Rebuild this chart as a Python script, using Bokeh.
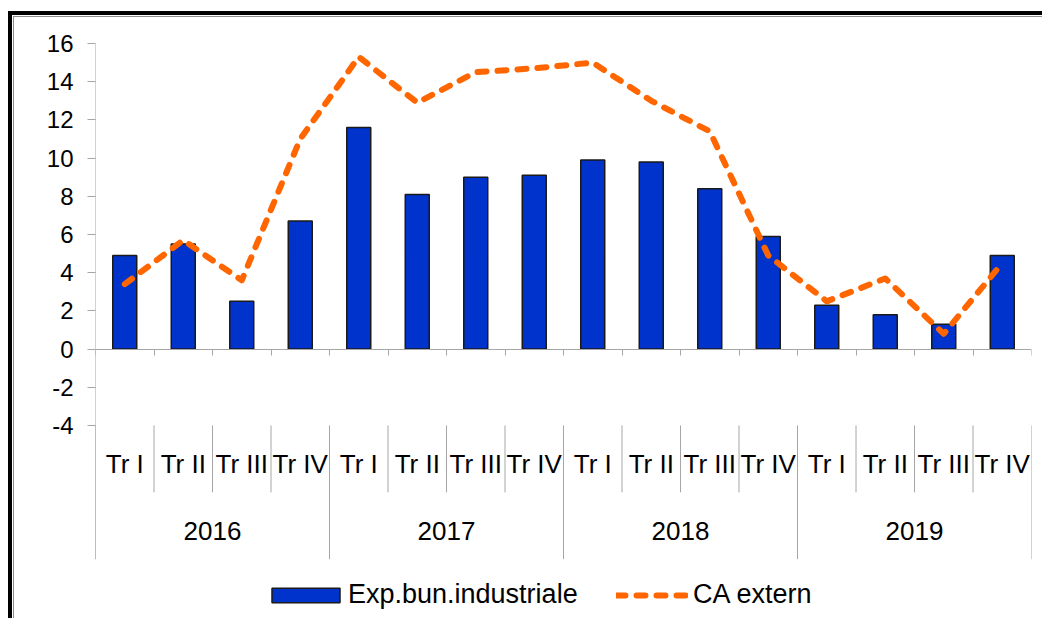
from bokeh.plotting import figure
from bokeh.models import (Range1d, LinearAxis, FixedTicker, Legend, LegendItem,
                          CustomJSTickFormatter)
from bokeh.core.properties import value
from bokeh.embed import file_html
from bokeh.resources import INLINE

# ---------------- data ----------------
years = ["2016", "2017", "2018", "2019"]
quarters = ["Tr I", "Tr II", "Tr III", "Tr IV"]
exp_bun = [4.9, 5.5, 2.5, 6.7, 11.6, 8.1, 9.0, 9.1, 9.9, 9.8, 8.4, 5.9, 2.3, 1.8, 1.3, 4.9]
ca_extern = [3.4, 5.7, 3.6, 11.0, 15.3, 12.9, 14.5, 14.7, 15.0, 13.0, 11.4, 4.9, 2.5, 3.7, 0.8, 4.5]
y_ticks = [-4, -2, 0, 2, 4, 6, 8, 10, 12, 14, 16]

# ---------------- layout constants ----------------
FONT = "Liberation Sans"
AXIS_GRAY = "#a6a6a6"
Y_BOTTOM = -14.42     # frame extends below -4 to hold category labels and legend
YEAR_SEP_END = -11.0
Q_SEP_END = -7.5
Q_LABEL_Y = -6.0
YEAR_LABEL_Y = -9.5

nq = len(quarters)
n = len(years) * nq
xs = [i + 0.5 for i in range(n)]
q_labels = [q for _y in years for q in quarters]
year_x = [nq * (k + 0.5) for k in range(len(years))]

p = figure(width=1034, height=607, x_range=Range1d(0, n),
           y_range=Range1d(Y_BOTTOM, max(y_ticks)),
           x_axis_type=None, output_backend="svg", toolbar_location=None,
           min_border_left=81, min_border_right=17, min_border_top=26,
           min_border_bottom=0)
p.outline_line_color = None
p.ygrid.grid_line_color = None
p.background_fill_color = "white"
p.border_fill_color = "white"
p.styles = {"border-left": "4px solid black", "border-top": "4px solid black",
            "margin-left": "8px", "margin-top": "11px",
            "padding-left": "2px", "padding-top": "2px",
            "background-color": "white",
            "box-shadow": "inset 1px 1px 0 0 white, inset 2px 2px 0 0 #8c8c8c"}

# y axis (its line is drawn separately so it can stop at the category block)
ya = p.yaxis[0]
ya.ticker = FixedTicker(ticks=y_ticks)
ya.formatter = CustomJSTickFormatter(code="return tick.toFixed(0)")
ya.axis_line_color = None
ya.major_tick_line_color = AXIS_GRAY
ya.major_tick_in = 0
ya.major_tick_out = 8
ya.minor_tick_line_color = None
ya.major_label_standoff = 14
ya.major_label_text_font = FONT
ya.major_label_text_font_size = "24px"
ya.major_label_text_color = "black"

# category axis line at zero (kept in the top panel so it takes no bottom space)
zero_axis = LinearAxis(fixed_location=0, ticker=FixedTicker(ticks=list(range(n + 1))),
                       formatter=CustomJSTickFormatter(code="return ''"),
                       major_tick_in=6, major_tick_out=0,
                       minor_tick_line_color=None,
                       axis_line_color=AXIS_GRAY, major_tick_line_color=AXIS_GRAY)
p.add_layout(zero_axis, "above")

# bars and line
bars = p.vbar(x=xs, top=exp_bun, bottom=0, width=0.41, fill_color="#0033CC",
              line_color="#1a1a1a", line_width=1.5)
line = p.line(xs, ca_extern, line_color="#FF6600", line_width=6, line_dash="9 11",
              line_cap="round", line_join="round")

# value axis line and category separators
q_sep = [i for i in range(1, n) if i % nq != 0]
y_sep = [i for i in range(0, n + 1, nq)]
p.segment(x0=[0], y0=[max(y_ticks)], x1=[0], y1=[YEAR_SEP_END],
          line_color=AXIS_GRAY, line_width=1)
p.segment(x0=q_sep, y0=[min(y_ticks)] * len(q_sep), x1=q_sep,
          y1=[Q_SEP_END] * len(q_sep), line_color=AXIS_GRAY, line_width=1)
p.segment(x0=y_sep, y0=[min(y_ticks)] * len(y_sep), x1=y_sep,
          y1=[YEAR_SEP_END] * len(y_sep), line_color=AXIS_GRAY, line_width=1)

p.text(x=xs, y=[Q_LABEL_Y] * n, text=q_labels, text_align="center",
       text_baseline="middle", text_font=value(FONT), text_font_size="26px",
       text_color="black")
p.text(x=year_x, y=[YEAR_LABEL_Y] * len(years), text=years, text_align="center",
       text_baseline="middle", text_font=value(FONT), text_font_size="26px",
       text_color="black")

common = dict(orientation="horizontal", padding=0, margin=0, spacing=0,
              border_line_color=None, background_fill_alpha=0,
              label_text_font=FONT, label_text_font_size="27px",
              label_text_color="black", glyph_height=18)
leg1 = Legend(items=[LegendItem(label="Exp.bun.industriale", renderers=[bars])],
              location=(168, 14), glyph_width=85, label_standoff=0, **common)
leg2 = Legend(items=[LegendItem(label="CA extern", renderers=[line])],
              location=(521, 14), glyph_width=72, label_standoff=5, **common)
p.add_layout(leg1, "center")
p.add_layout(leg2, "center")

open("out.html", "w").write(file_html(p, INLINE))
